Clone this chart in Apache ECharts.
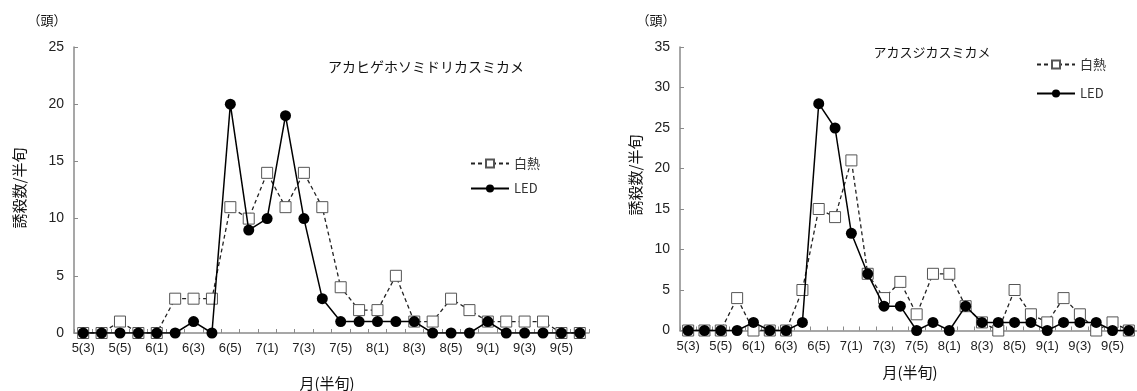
<!DOCTYPE html>
<html><head><meta charset="utf-8">
<script src="https://cdn.jsdelivr.net/npm/echarts@6/dist/echarts.min.js"></script>
<style>html,body{margin:0;padding:0;background:#fff}#c{width:1137px;height:391px}</style>
</head><body><div id="c"></div>
<script>
const categories = ['5(3)','5(4)','5(5)','5(6)','6(1)','6(2)','6(3)','6(4)','6(5)','6(6)','7(1)','7(2)','7(3)','7(4)','7(5)','7(6)','8(1)','8(2)','8(3)','8(4)','8(5)','8(6)','9(1)','9(2)','9(3)','9(4)','9(5)','9(6)'];
const seriesNames = ['白熱','LED'];
const titleLeft = 'アカヒゲホソミドリカスミカメ';
const titleRight = 'アカスジカスミカメ';
const akahigeHakunetsu = [0,0,1,0,0,3,3,3,11,10,14,11,14,11,4,2,2,5,1,1,3,2,1,1,1,1,0,0];
const akahigeLED       = [0,0,0,0,0,0,1,0,20,9,10,19,10,3,1,1,1,1,1,0,0,0,1,0,0,0,0,0];
const akasujiHakunetsu = [0,0,0,4,0,0,0,5,15,14,21,7,4,6,2,7,7,3,1,0,5,2,1,4,2,0,1,0];
const akasujiLED       = [0,0,0,0,1,0,0,1,28,25,12,7,3,3,0,1,0,3,1,1,1,1,0,1,1,1,0,0];
const yMaxLeft = 25, yMaxRight = 35, yStep = 5;

const JP = '"Noto Sans CJK JP", sans-serif';
const NUM = '"Liberation Sans", Arial, sans-serif';
const axisGray = '#8a8a8a';

function xAxis(gi){
  return {
    type:'category', gridIndex:gi, data:categories, boundaryGap:true,
    axisLine:{lineStyle:{color:axisGray,width:1.5}},
    axisTick:{show:true,inside:true,length:4,interval:0,lineStyle:{color:axisGray}},
    axisLabel:{interval:1,color:'#222',fontSize:13,fontFamily:NUM,margin:9}
  };
}
function yAxis(gi,max){
  return {
    type:'value', gridIndex:gi, min:0, max:max, interval:yStep,
    axisLine:{show:true,lineStyle:{color:axisGray,width:1.5}},
    axisTick:{show:true,inside:true,length:4,lineStyle:{color:axisGray}},
    splitLine:{show:false},
    axisLabel:{color:'#222',fontSize:14,fontFamily:NUM,margin:10}
  };
}
function hak(data,gi){
  return {name:seriesNames[0],type:'line',xAxisIndex:gi,yAxisIndex:gi,data:data,
    symbol:'rect',symbolSize:11,showAllSymbol:true,
    itemStyle:{color:'#fff',borderColor:'#555',borderWidth:1},
    lineStyle:{color:'#222',width:1.3,type:[4,3]},z:2};
}
function led(data,gi){
  return {name:seriesNames[1],type:'line',xAxisIndex:gi,yAxisIndex:gi,data:data,
    symbol:'circle',symbolSize:11,showAllSymbol:true,
    itemStyle:{color:'#000'},
    lineStyle:{color:'#000',width:1.5},z:3};
}
function legend(left,top,gap){
  return {data:seriesNames,left:left,top:top,orient:'vertical',itemWidth:38,itemHeight:10,itemGap:gap,
    textStyle:{fontFamily:JP,fontSize:13,color:'#333'},selectedMode:false};
}
function txt(x,y,s,size,rot){
  return {type:'text',x:x,y:y,rotation:rot||0,style:{text:s,fontFamily:JP,fontSize:size,fill:'#111',align:'center',verticalAlign:'middle'}};
}

const chart = echarts.init(document.getElementById('c'),null,{renderer:'canvas'});
chart.setOption({
  animation:false,
  backgroundColor:'#fff',
  grid:[{left:74,right:548,top:47,bottom:58},{left:680,right:-4,top:47,bottom:60.5}],
  xAxis:[xAxis(0),xAxis(1)],
  yAxis:[yAxis(0,yMaxLeft),yAxis(1,yMaxRight)],
  legend:[legend(465,152,12),legend(1031,53,16)],
  series:[hak(akahigeHakunetsu,0),led(akahigeLED,0),hak(akasujiHakunetsu,1),led(akasujiLED,1)],
  graphic:[
    txt(426,67,titleLeft,14),
    txt(932,52,titleRight,13),
    txt(47,20,'（頭）',13),
    txt(656,20,'（頭）',13),
    txt(19,188,'誘殺数/半旬',15,Math.PI/2),
    txt(635,175,'誘殺数/半旬',15,Math.PI/2),
    txt(327,383,'月(半旬)',15),
    txt(910,372,'月(半旬)',15)
  ]
});
</script></body></html>
